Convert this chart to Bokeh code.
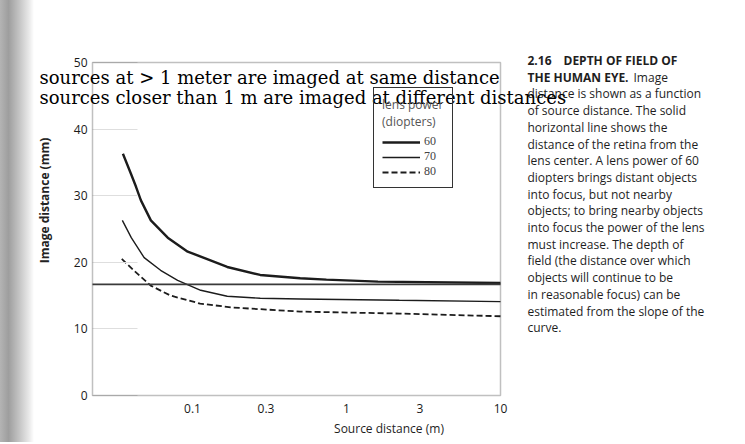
import math
from bokeh.plotting import figure
from bokeh.models import Label, Legend, LegendItem, FixedTicker, Range1d, Div, BoxAnnotation
from bokeh.layouts import row
from bokeh.embed import file_html
from bokeh.resources import INLINE

# ---------------- data ----------------
src_60 = [0.0353, 0.0398, 0.043, 0.0462, 0.0536, 0.069, 0.093, 0.121, 0.168, 0.275, 0.50, 0.74, 1.6, 10]
img_60 = [36.3, 33.3, 31.3, 29.3, 26.3, 23.7, 21.6, 20.6, 19.3, 18.1, 17.6, 17.4, 17.1, 16.9]

src_70 = [0.035, 0.040, 0.0485, 0.062, 0.080, 0.113, 0.168, 0.275, 0.50, 2.2, 10]
img_70 = [26.3, 23.7, 20.7, 18.8, 17.3, 15.8, 14.9, 14.6, 14.5, 14.3, 14.1]

src_80 = [0.0347, 0.0415, 0.0535, 0.072, 0.112, 0.184, 0.50, 2.2, 10]
img_80 = [20.5, 18.8, 16.5, 15.0, 13.8, 13.2, 12.6, 12.3, 11.9]

retina_mm = 16.7

x_ticks = [0.1, 0.3, 1, 3, 10]
x_tick_labels = ["0.1", "0.3", "1", "3", "10"]
y_ticks = [0, 10, 20, 30, 40, 50]
legend_powers = ["60", "70", "80"]
legend_title = "lens power\n(diopters)"
x_title = "Source distance (m)"
y_title = "Image distance (mm)"

annotation_lines = [
    "sources at > 1 meter are imaged at same distance",
    "sources closer than 1 m are imaged at different distances",
]
caption_head = ["2.16\u2002\u2002DEPTH OF FIELD OF", "THE HUMAN EYE."]
caption_lines = [
    "",
    "Image",
    "distance is shown as a function",
    "of source distance. The solid",
    "horizontal line shows the",
    "distance of the retina from the",
    "lens center. A lens power of 60",
    "diopters brings distant objects",
    "into focus, but not nearby",
    "objects; to bring nearby objects",
    "into focus the power of the lens",
    "must increase. The depth of",
    "field (the distance over which",
    "objects will continue to be",
    "in reasonable focus) can be",
    "estimated from the slope of the",
    "curve.",
]

# ---------------- geometry (page pixels) ----------------
X0, X1 = 0.0224, 10          # visible axis box, left/right
Y0, Y1 = 0, 50               # visible axis box, bottom/top
BOX_L, BOX_R, BOX_T, BOX_B = 92, 500, 62, 395
STRIP_W = 34
FIG_W, FIG_H = 709, 442
FR_L, FR_R, FR_T, FR_B = STRIP_W, STRIP_W + FIG_W, 45, 403   # frame in page px

KX = (math.log10(X1) - math.log10(X0)) / (BOX_R - BOX_L)
KY = (Y1 - Y0) / (BOX_B - BOX_T)


def dx(px):
    return 10 ** (math.log10(X0) + (px - BOX_L) * KX)


def dy(py):
    return Y0 + (BOX_B - py) * KY


p = figure(width=FIG_W, height=FIG_H, x_axis_type="log",
           x_range=Range1d(dx(FR_L), dx(FR_R)), y_range=Range1d(dy(FR_B), dy(FR_T)),
           output_backend="svg", toolbar_location=None,
           min_border_left=0, min_border_right=0,
           min_border_top=FR_T, min_border_bottom=FIG_H - FR_B)
p.grid.visible = False
p.outline_line_color = None
p.background_fill_color = "white"
p.border_fill_color = "white"

p.xaxis.ticker = FixedTicker(ticks=x_ticks)
p.xaxis.major_label_overrides = dict(zip(x_ticks, x_tick_labels))
p.yaxis.ticker = FixedTicker(ticks=y_ticks)
p.yaxis.fixed_location = X0
for ax in (p.xaxis[0], p.yaxis[0]):
    ax.major_tick_line_color = None
    ax.minor_tick_line_color = None
    ax.major_tick_out = 0
    ax.major_tick_in = 0
    ax.axis_line_color = None
    ax.major_label_text_font = "Open Sans"
    ax.major_label_text_font_size = "12px"
    ax.major_label_text_color = "#1a1a1a"
# faint inward tick marks on the y axis, as in the scan
p.yaxis.major_tick_in = 45
p.yaxis.major_tick_line_color = "#dedede"
p.yaxis.major_tick_line_width = 1
p.xaxis.major_label_standoff = 0
p.yaxis.major_label_standoff = 5
p.xaxis.axis_label = x_title
p.xaxis.axis_label_standoff = 4
p.xaxis.axis_label_text_font = "Open Sans"
p.xaxis.axis_label_text_font_size = "12px"
p.xaxis.axis_label_text_font_style = "normal"
p.xaxis.axis_label_text_color = "#1e1e1e"

# axis box
p.add_layout(BoxAnnotation(left=X0, right=X1, bottom=Y0, top=Y1, fill_alpha=0,
                           line_color="#2e2e2e", line_width=1.5))

ink = "#1c1c1c"
r60 = p.line(src_60, img_60, line_color=ink, line_width=2.4)
r70 = p.line(src_70, img_70, line_color=ink, line_width=1.4)
r80 = p.line(src_80, img_80, line_color=ink, line_width=1.8, line_dash="6 3")
p.segment(x0=[X0], y0=[retina_mm], x1=[X1], y1=[retina_mm], line_color="#3a3a3a", line_width=1.8)

legend = Legend(
    items=[LegendItem(label=lab, renderers=[r]) for lab, r in zip(legend_powers, [r60, r70, r80])],
    location=(373 - FR_L, FR_B - 188), title=legend_title,
    border_line_color="#333333", border_line_width=1.5, border_line_alpha=1.0,
    background_fill_color="white", background_fill_alpha=0.0,
    padding=8, spacing=0, margin=0,
    glyph_width=38, glyph_height=14, label_height=14, label_standoff=4,
    label_text_font="Liberation Serif", label_text_font_size="12px",
    title_text_font="Open Sans", title_text_font_size="12px",
    title_text_font_style="normal", title_text_color="#555555", title_standoff=4,
)
p.add_layout(legend, "center")

# y axis title
p.add_layout(Label(x=dx(44), y=dy(200), text=y_title, angle=math.pi / 2,
                   text_align="center", text_baseline="middle",
                   text_font="Open Sans", text_font_size="12px", text_font_style="bold",
                   text_color="#222222"))

# caption
CAP_X, CAP_Y, CAP_DY = 527, 60, 16.7
for i, head in enumerate(caption_head):
    p.add_layout(Label(x=dx(CAP_X), y=dy(CAP_Y + i * CAP_DY), text=head,
                       text_align="left", text_baseline="middle",
                       text_font="Open Sans", text_font_size="12px", text_font_style="bold",
                       text_color="#1e1e1e"))
for i, line in enumerate(caption_lines):
    if not line:
        continue
    x0 = CAP_X + 106 if i == 1 else CAP_X
    p.add_layout(Label(x=dx(x0), y=dy(CAP_Y + i * CAP_DY), text=line,
                       text_align="left", text_baseline="middle",
                       text_font="Open Sans", text_font_size="12px",
                       text_color="#1e1e1e"))

# overlaid annotation (on top of everything)
for i, line in enumerate(annotation_lines):
    p.add_layout(Label(x=dx(39), y=dy(77 + i * 20), text=line, level="overlay",
                       text_align="left", text_baseline="middle",
                       text_font="DejaVu Serif", text_font_size="18px",
                       text_color="#000000"))

strip = Div(width=STRIP_W, height=FIG_H, margin=0, text="",
            styles={"background": "linear-gradient(to right, #b4b4b4 0%, #9e9e9e 25%, "
                                  "#c2c2c2 55%, #e8e8e8 85%, #ffffff 100%)"})

layout = row(strip, p, spacing=0)
open("out.html", "w").write(file_html(layout, INLINE))
